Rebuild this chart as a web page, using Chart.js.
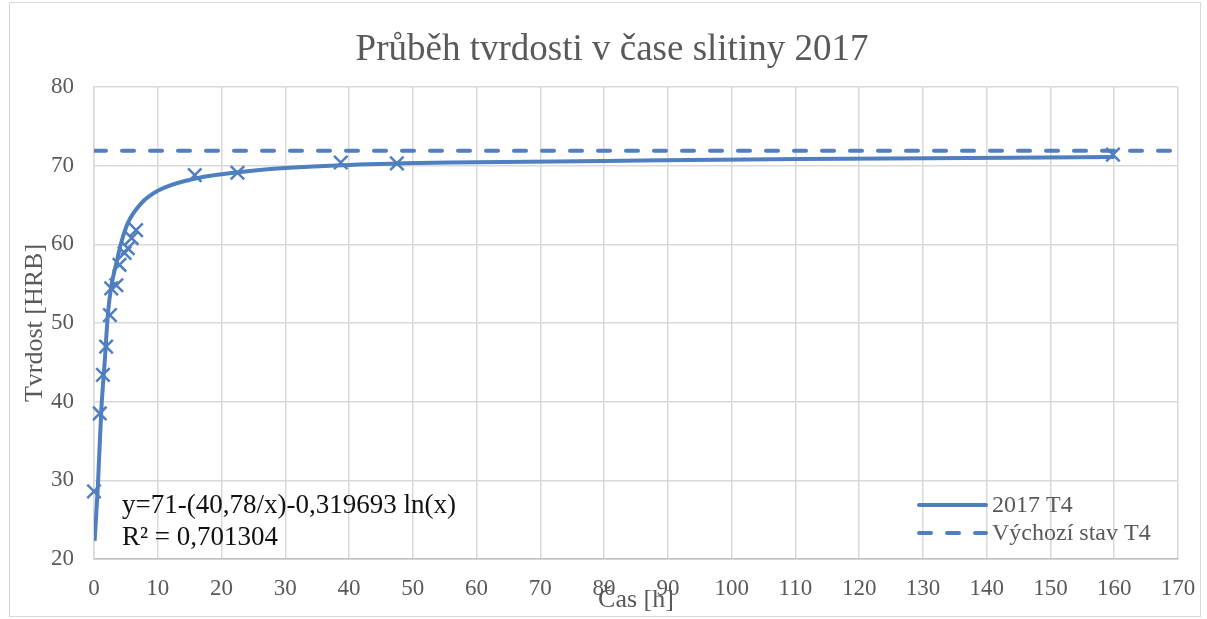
<!DOCTYPE html>
<html>
<head>
<meta charset="utf-8">
<script src="https://cdn.jsdelivr.net/npm/chart.js@4.4.0/dist/chart.umd.min.js"></script>
<style>
html, body { margin: 0; padding: 0; background: #fff; }
#box { position: absolute; left: 0; top: 0; width: 1207px; height: 619px; }
#ramecek { position: absolute; left: 9px; top: 2px; width: 1190px; height: 613px; border: 1px solid #d9d9d9; pointer-events: none; }
</style>
</head>
<body>
<div id="box"><canvas id="graf"></canvas></div>
<div id="ramecek"></div>
<script>
// namerene body (krizky)
var merCas = [0, 0.9, 1.4, 1.9, 2.5, 2.7, 3.5, 4.0, 4.8, 5.3, 5.9, 6.6, 15.8, 22.5, 38.7, 47.5, 159.8];
var merTvrdost = [28.6, 38.5, 43.4, 47.0, 51.0, 54.4, 54.8, 57.4, 58.9, 59.5, 60.8, 61.8, 68.8, 69.1, 70.4, 70.3, 71.4];
// spojnice trendu 2017 T4
var trendCas = [0.1, 0.6, 1.15, 1.7, 2.2, 2.7, 3.5, 4.3, 5.3, 7.4, 10, 15, 22, 30, 40, 56, 80, 111, 160];
var trendTvrdost = [22.3, 29.2, 39.0, 45.3, 51.3, 54.6, 57.6, 60.3, 62.7, 65.2, 66.8, 68.2, 69.1, 69.7, 70.1, 70.4, 70.6, 70.85, 71.1];
// vychozi stav T4
var vychoziCas = [0, 170];
var vychoziTvrdost = [71.9, 71.9];
// popisky os
var xTicks = [0, 10, 20, 30, 40, 50, 60, 70, 80, 90, 100, 110, 120, 130, 140, 150, 160, 170];
var yTicks = [20, 30, 40, 50, 60, 70, 80];
var nazev = 'Průběh tvrdosti v čase slitiny 2017';
var rovnice = ['y=71-(40,78/x)-0,319693 ln(x)', 'R² = 0,701304'];
var legenda = ['2017 T4', 'Výchozí stav T4'];

var modra = '#4f7fbf';
var seda = '#595959';
var pismo = '"Liberation Serif", "Times New Roman", serif';

function body(xs, ys) {
    return xs.map(function (x, i) { return { x: x, y: ys[i] }; });
}

var popisky = {
    id: 'popisky',
    afterDraw: function (chart) {
        var ctx = chart.ctx;
        ctx.save();
        ctx.fillStyle = seda;
        ctx.textAlign = 'center';
        ctx.textBaseline = 'middle';
        ctx.font = '37px ' + pismo;
        ctx.fillText(nazev, 612, 50);

        // legenda
        ctx.strokeStyle = modra;
        ctx.lineWidth = 4;
        ctx.lineCap = 'round';
        ctx.beginPath();
        ctx.moveTo(919, 505); ctx.lineTo(986, 505);
        ctx.stroke();
        ctx.setLineDash([12, 16]);
        ctx.beginPath();
        ctx.moveTo(919, 533); ctx.lineTo(986, 533);
        ctx.stroke();
        ctx.setLineDash([]);
        ctx.textAlign = 'left';
        ctx.font = '24px ' + pismo;
        ctx.fillText(legenda[0], 992, 506);
        ctx.fillText(legenda[1], 992, 534);

        // rovnice trendu
        ctx.fillStyle = '#111';
        ctx.font = '27px ' + pismo;
        ctx.fillText(rovnice[0], 122, 506);
        ctx.fillText(rovnice[1], 122, 538);
        ctx.restore();
    }
};

new Chart(document.getElementById('graf').getContext('2d'), {
    type: 'scatter',
    data: {
        datasets: [{
            label: legenda[0],
            data: body(trendCas, trendTvrdost),
            showLine: true,
            borderColor: modra,
            borderWidth: 4,
            pointRadius: 0,
            cubicInterpolationMode: 'monotone',
            order: 2
        }, {
            label: legenda[1],
            data: body(vychoziCas, vychoziTvrdost),
            showLine: true,
            borderColor: modra,
            borderWidth: 4,
            borderDash: [12, 16],
            borderCapStyle: 'round',
            pointRadius: 0,
            order: 3
        }, {
            label: 'měření',
            data: body(merCas, merTvrdost),
            showLine: false,
            pointStyle: 'crossRot',
            pointRadius: 9.5,
            pointBorderWidth: 2.5,
            borderColor: modra,
            backgroundColor: modra,
            clip: false,
            order: 1
        }]
    },
    options: {
        responsive: true,
        maintainAspectRatio: false,
        animation: false,
        layout: { padding: { top: 87, right: 29, left: 0, bottom: 0 } },
        plugins: { legend: { display: false }, tooltip: { enabled: false } },
        scales: {
            x: {
                type: 'linear',
                min: 0,
                max: 170,
                afterBuildTicks: function (s) { s.ticks = xTicks.map(function (v) { return { value: v }; }); },
                afterFit: function (s) { s.height = 60; s.paddingLeft = 0; s.paddingRight = 0; },
                ticks: { color: seda, font: { family: pismo, size: 23 }, padding: 16, maxRotation: 0, autoSkip: false },
                grid: { color: '#d9d9d9', lineWidth: 1.5, drawTicks: false },
                border: { color: '#bfbfbf', width: 1.5 },
                title: { display: true, text: 'Čas [h]', color: seda, font: { family: pismo, size: 26 }, padding: { bottom: 3 } }
            },
            y: {
                min: 20,
                max: 80,
                afterBuildTicks: function (s) { s.ticks = yTicks.map(function (v) { return { value: v }; }); },
                afterFit: function (s) { s.width = 94; },
                ticks: { color: seda, font: { family: pismo, size: 23 }, padding: 20 },
                grid: { color: '#d9d9d9', lineWidth: 1.5, drawTicks: false },
                border: { color: '#d9d9d9', width: 1.5 },
                title: { display: true, text: 'Tvrdost [HRB]', color: seda, font: { family: pismo, size: 26 }, padding: { top: 20 } }
            }
        }
    },
    plugins: [popisky]
});
</script>
</body>
</html>
